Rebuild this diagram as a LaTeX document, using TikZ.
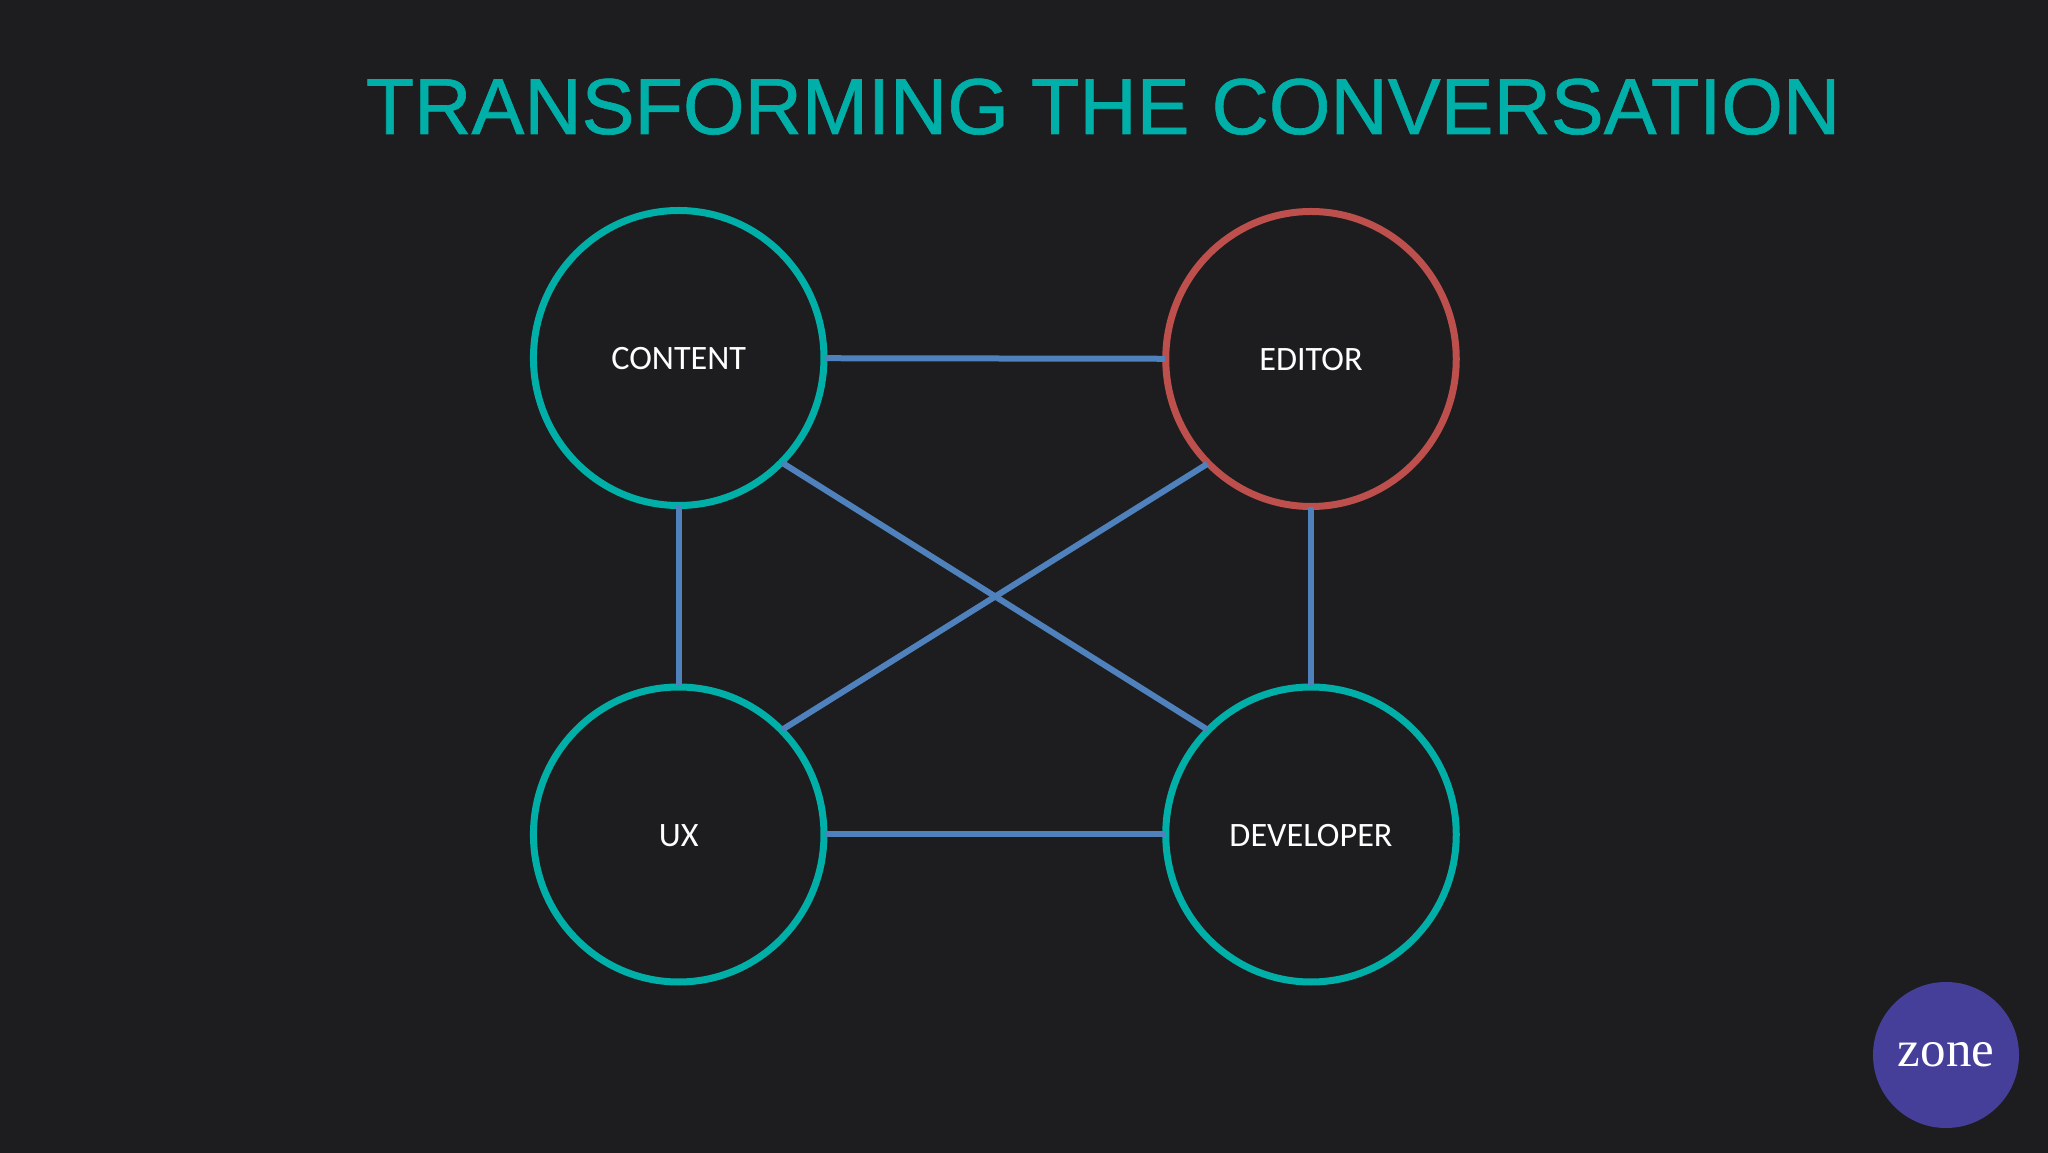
\documentclass[tikz,border=0pt]{standalone}
\usepackage{fontspec}
\setmainfont{Carlito}
\newfontfamily\titlefont[BoldFont=Liberation Sans, BoldFeatures={FakeBold=0.8}]{Liberation Sans}
\newfontfamily\logofont{Liberation Serif}
\usetikzlibrary{shapes.geometric, shadows}
\definecolor{bgdark}{HTML}{1D1D1F}
\definecolor{tealring}{HTML}{00B0A8}
\definecolor{redring}{HTML}{BD4F4C}
\definecolor{linkblue}{HTML}{4F81BD}
\definecolor{zonepurple}{HTML}{453F9A}
\tikzset{
  role/.style={ellipse, draw=tealring, fill=bgdark, line width=7pt, minimum width=290.5pt, minimum height=295pt,
    inner sep=0pt, outer sep=0pt, text=white, font=\fontsize{34.2}{36}\selectfont, text height=24pt, text depth=0pt,
    drop shadow={shadow xshift=1pt, shadow yshift=-2pt, opacity=.3, fill=black}},
  link/.style={draw=linkblue, line width=6pt, shorten >=1pt, shorten <=1pt}
}
\begin{document}
\begin{tikzpicture}[x=1pt, y=1pt]
        \useasboundingbox (0,0) rectangle (2048,1152);
        \fill[bgdark] (-4,-4) rectangle (2052,1156);
        \node[anchor=base, text=tealring, inner sep=0pt, font=\titlefont\bfseries\fontsize{79.3}{90}\selectfont] (title) at (1103,1018) {TRANSFORMING THE CONVERSATION};
        \node[role] (content) at (678.7,794) {CONTENT};
        \node[role, draw=redring] (editor) at (1311,793) {EDITOR};
        \node[role] (ux) at (678.7,317.5) {UX};
        \node[role] (developer) at (1311,317.5) {DEVELOPER};
        \foreach \a/\b in {content/editor, ux/developer, content/ux, editor/developer} {
          \draw[link] (\a) -- (\b);
        }
        \draw[link] (content.south east) -- (developer.north west);
        \draw[link] (editor.south west) -- (ux.north east);
        \node[circle, fill=zonepurple, minimum size=146pt, inner sep=0pt, text=white, font=\logofont\fontsize{51}{51}\selectfont] (zone) at (1946,97) {zone};
      \end{tikzpicture}
\end{document}
